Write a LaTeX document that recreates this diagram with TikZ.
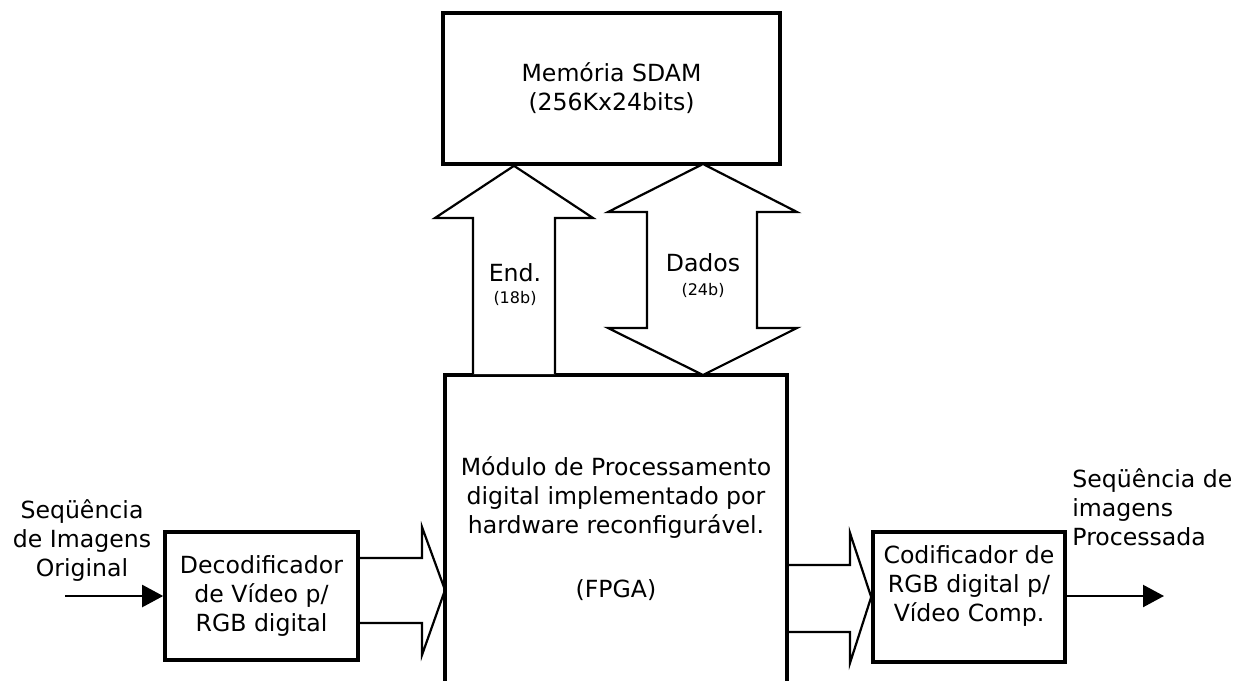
\documentclass[tikz,border=0pt]{standalone}
\usepackage{fontspec}
\setmainfont{DejaVu Sans}
\usetikzlibrary{arrows.meta}
\begin{document}
\begin{tikzpicture}[x=0.5pt,y=-0.5pt,
  txt/.style={font=\fontsize{11.8pt}{14.5pt}\selectfont, align=center, inner sep=0pt},
  small/.style={font=\fontsize{8pt}{10pt}\selectfont, inner sep=0pt},
  box/.style={draw, line width=1.8pt, inner sep=0pt},
  blockarrow/.style={draw, line width=1.1pt, line join=miter, fill=white},
  flow/.style={line width=1.1pt, -{Triangle[length=10.5pt,width=11pt]}}]
\useasboundingbox (0,0) rectangle (1245,680);
\clip (0,0) rectangle (1245,680);

% memory block
\node[box, txt, minimum width=168.5pt, minimum height=75.5pt] (mem) at (611.5,88.5)
  {Memória SDAM\\(256Kx24bits)};

% reconfigurable processing module (runs off the bottom edge)
\draw[line width=2.2pt] (445,720) -- (445,375) -- (787,375) -- (787,720);
\coordinate (fpgaW) at (445,590);
\node[txt] (fpga) at (616,498)
  {Módulo de Processamento\\digital implementado por\\hardware reconfigurável.};
\node[txt] (fpganame) at (616,590) {(FPGA)};

% address bus (one way, up to the memory)
\path[blockarrow] (473,374) -- (473,218) -- (435,218) -- (mem.south -| 514,0) -- (593,218) -- (555,218) -- (555,374);
\node[txt] (endl) at (515,273) {End.};
\node[small] (endb) at (515,298) {(18b)};

% data bus (both ways)
\path[blockarrow] (647,212) -- (608,212) -- (703,164) -- (797,212) -- (757,212)
  -- (757,328) -- (797,328) -- (703,375) -- (608,328) -- (647,328) -- cycle;
\node[txt] (datl) at (703,263) {Dados};
\node[small] (datb) at (703,290) {(24b)};

% video decoder
\node[box, txt, minimum width=96.5pt, minimum height=64pt] (dec) at (261.5,596)
  {Decodificador\\de Vídeo p/\\RGB digital};

% decoder -> processing module
\path[blockarrow, fill=none] (dec.east |- 0,558) -- (422,558) -- (422,527) -- (fpgaW)
  -- (422,655) -- (422,623) -- (dec.east |- 0,623);

% video encoder
\node[box, minimum width=96pt, minimum height=65pt] (enc) at (969,597) {};
\node[txt] (enct) at (969,586) {Codificador de\\RGB digital p/\\Vídeo Comp.};

% processing module -> encoder
\path[blockarrow, fill=none] (787,565) -- (850,565) -- (850,533) -- (enc.west)
  -- (850,663) -- (850,632) -- (787,632);

% input and output streams
\coordinate (inS) at (65,596);
\coordinate (outE) at (1164,596);
\draw[flow] (inS) -- (dec.west);
\draw[flow] (enc.east |- outE) -- (outE);
\node[txt] (inl) at (82,541) {Seqüência\\de Imagens\\Original};
\node[txt, anchor=west, align=left] (outl) at (1072,507) {Seqüência de\\imagens\\Processada};
\end{tikzpicture}
\end{document}
